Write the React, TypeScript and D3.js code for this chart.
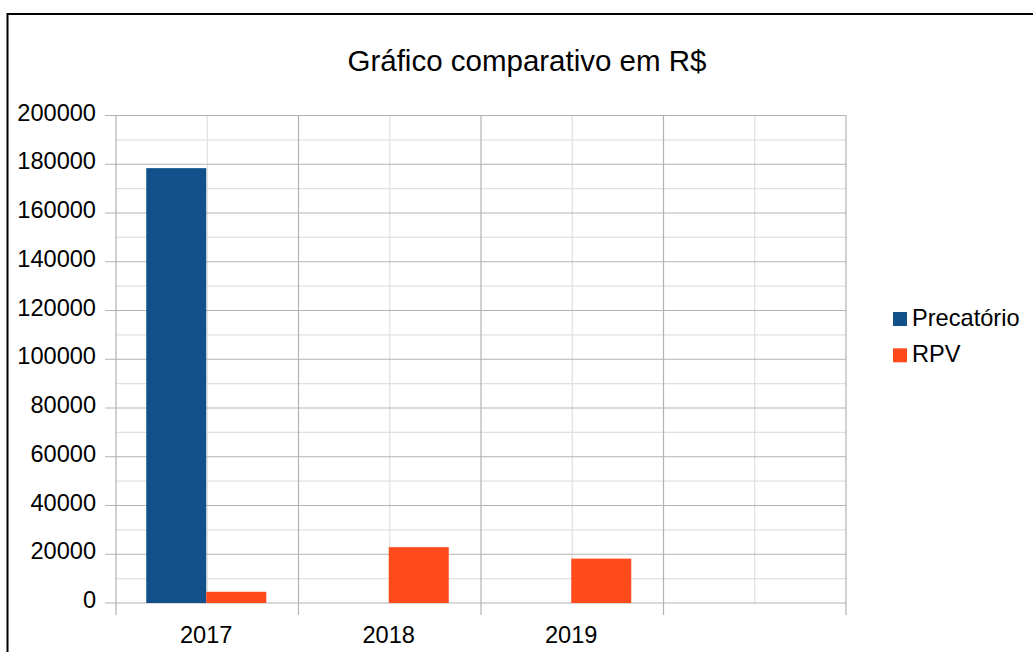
import React from 'react';
import * as d3 from 'd3';

// chart data
const categories = ['2017', '2018', '2019', ''];
const seriesNames = ['Precatório', 'RPV'];
const precatorio = [178400, 0, 0, 0];
const rpv = [4600, 22900, 18200, 0];
const yTicks = [0, 20000, 40000, 60000, 80000, 100000, 120000, 140000, 160000, 180000, 200000];
const yMinor = [10000, 30000, 50000, 70000, 90000, 110000, 130000, 150000, 170000, 190000];

const colors = ['#11508b', '#ff4a1c'];
const W = 1033;
const H = 652;
const margin = { left: 116, right: 846, top: 115.5, bottom: 603 };
const font = '"Liberation Sans", Arial, sans-serif';
const fs = 23.6;

const App = () => {
  const x = d3.scaleBand<string>()
    .domain(categories.map((c, i) => String(i)))
    .range([margin.left, margin.right])
    .padding(0);
  const y = d3.scaleLinear().domain([0, 200000]).range([margin.bottom, margin.top]);

  const bw = x.bandwidth();
  const inner = d3.scaleBand<string>()
    .domain(seriesNames)
    .range([-1, bw - 1])
    .paddingOuter((bw - 120) / 2 / 60)
    .paddingInner(0);

  const series = [precatorio, rpv];
  const majorColor = '#b3b3b3';
  const minorColor = '#e0e0e0';

  return (
    <svg width={W} height={H} style={{ position: 'absolute', left: 0, top: 0, background: '#fff' }}
      fontFamily={font}>
      <rect x={7.5} y={14} width={W + 10} height={H} fill="#fff" stroke="#000" strokeWidth={2} />

      <text x={527} y={71} textAnchor="middle" fontSize={29.5} fill="#000">Gráfico comparativo em R$</text>

      {/* minor grid */}
      {yMinor.map(v => (
        <line key={'ym' + v} x1={margin.left} x2={margin.right} y1={y(v)} y2={y(v)} stroke={minorColor} strokeWidth={1.2} />
      ))}
      {categories.map((c, i) => {
        const cx = (x(String(i)) as number) + bw / 2;
        return <line key={'xm' + i} x1={cx} x2={cx} y1={margin.top} y2={margin.bottom} stroke={minorColor} strokeWidth={1.2} />;
      })}

      {/* major grid */}
      {yTicks.map(v => (
        <line key={'y' + v} x1={margin.left - 11} x2={margin.right} y1={y(v)} y2={y(v)} stroke={majorColor} strokeWidth={1.2} />
      ))}
      {d3.range(categories.length + 1).map(i => {
        const xx = margin.left + i * bw;
        return <line key={'x' + i} x1={xx} x2={xx} y1={margin.top} y2={margin.bottom + 12} stroke={majorColor} strokeWidth={1.2} />;
      })}

      {/* bars */}
      {categories.map((c, i) => (
        <g key={'g' + i} transform={`translate(${x(String(i))},0)`}>
          {series.map((s, j) => s[i] > 0 ? (
            <rect key={j} x={inner(seriesNames[j])} width={inner.bandwidth()} y={y(s[i])}
              height={y(0) - y(s[i])} fill={colors[j]} />
          ) : null)}
        </g>
      ))}

      {/* y labels */}
      {yTicks.map(v => (
        <text key={'yl' + v} x={96} y={y(v) + 5} textAnchor="end" fontSize={fs} fill="#000">{v}</text>
      ))}

      {/* x labels */}
      {categories.map((c, i) => (
        <text key={'xl' + i} x={(x(String(i)) as number) + bw / 2 - 1} y={643} textAnchor="middle" fontSize={fs} fill="#000">{c}</text>
      ))}

      {/* legend */}
      {seriesNames.map((n, j) => (
        <g key={'l' + n} transform={`translate(893,${312 + j * 36.3})`}>
          <rect width={14} height={14} fill={colors[j]} />
          <text x={19} y={13.5} fontSize={fs} fill="#000">{n}</text>
        </g>
      ))}
    </svg>
  );
};

export default App;
